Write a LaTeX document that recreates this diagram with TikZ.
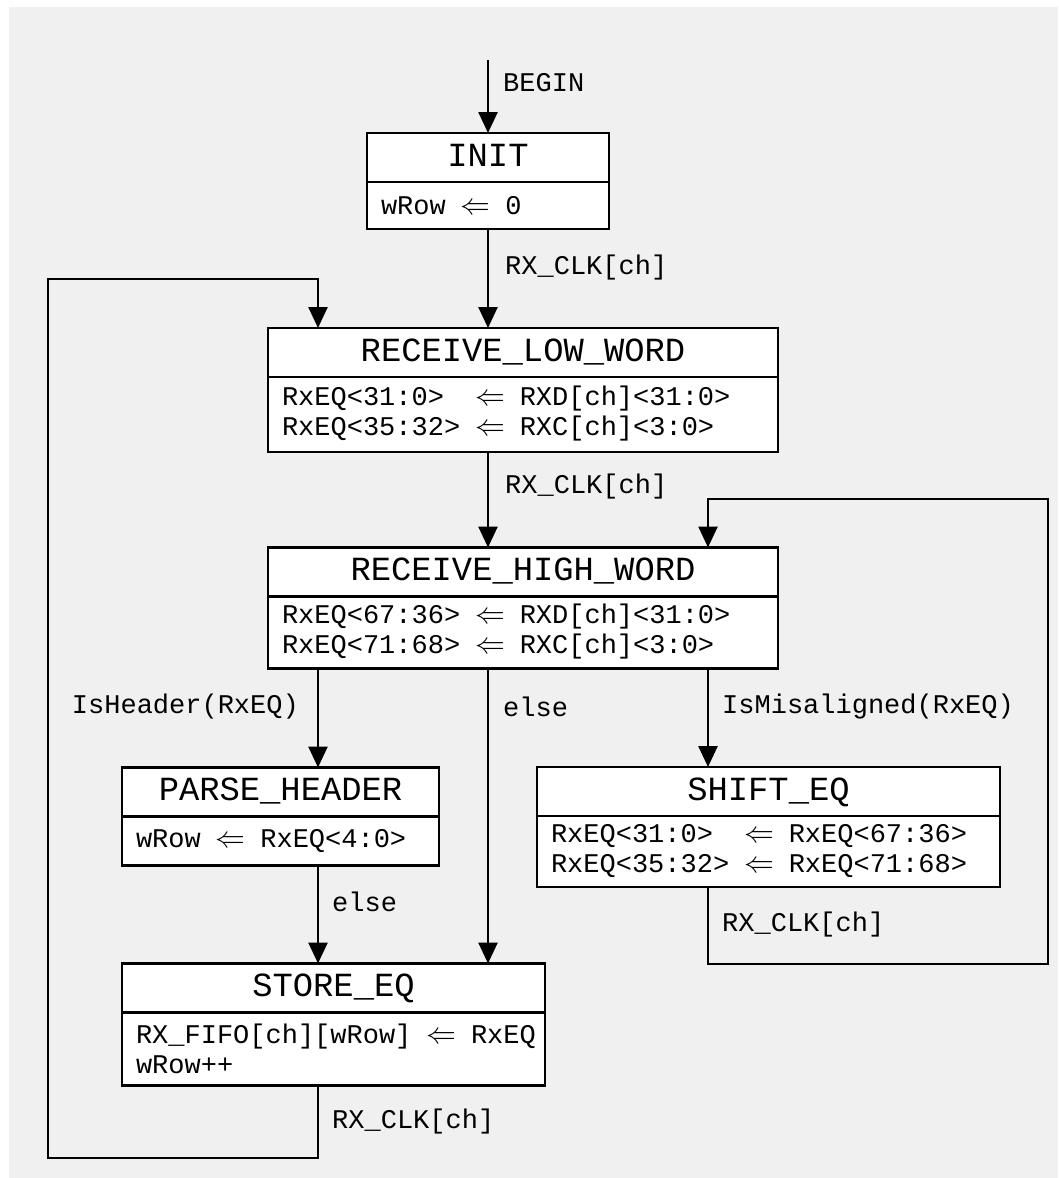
\documentclass[tikz,border=0pt]{standalone}
\usepackage{fontspec}
\setmonofont{Liberation Mono}
\usetikzlibrary{arrows.meta, positioning}
\definecolor{bgcol}{HTML}{F0F0F0}
\newcommand{\titlefont}{\ttfamily\fontsize{33.8}{38}\selectfont}
\newcommand{\bodyfont}{\ttfamily\fontsize{27}{30}\selectfont}
\newcommand{\lar}{\hspace{0.55em}\scalebox{1.2}{$\Leftarrow$}\hspace{0.55em}}

\begin{document}
\begin{tikzpicture}[x=1pt, y=-1pt,
  sttitle/.style={
    draw, fill=white, line width=2.6pt, font=\titlefont, outer sep=0pt,
    minimum height=49pt, inner sep=0pt, text height=24pt, text depth=7pt
  },
  stbody/.style={
    draw, fill=white, line width=2.6pt, font=\bodyfont, align=left,
    outer sep=0pt, inner xsep=14pt, inner ysep=0pt, below=0pt of #1
  },
  conn/.style={-{Triangle[length=21pt, width=19pt]}, line width=2.6pt},
  lbl/.style={font=\bodyfont, anchor=west, inner sep=0pt},
]

% ---------------------------------------------------------------
% page and background
% ---------------------------------------------------------------
\useasboundingbox (0,0) rectangle (1058,1178);
\fill[bgcol] (9,7) rectangle (1058,1178);

% columns used by the vertical connectors
\coordinate (colA) at (318,0);
\coordinate (colC) at (708,0);

% ===== States =====
\node[sttitle, minimum width=242pt] (init) at (488,157.5) {INIT};
\node[stbody=init, minimum width=242pt, text width=214pt, minimum height=47pt]
  (init-b) {wRow\lar 0};

\node[sttitle, minimum width=510pt] (rlw) at (523,352.5) {RECEIVE\_LOW\_WORD};
\node[stbody=rlw, minimum width=510pt, text width=482pt, minimum height=75pt]
  (rlw-b) {\begin{tabular}{@{}l@{\lar}l@{}}
    RxEQ<31:0>  & RXD[ch]<31:0>\\
    RxEQ<35:32> & RXC[ch]<3:0>
  \end{tabular}};

\node[sttitle, minimum width=510pt] (rhw) at (523,572) {RECEIVE\_HIGH\_WORD};
\node[stbody=rhw, minimum width=510pt, text width=482pt, minimum height=72pt]
  (rhw-b) {\begin{tabular}{@{}l@{\lar}l@{}}
    RxEQ<67:36> & RXD[ch]<31:0>\\
    RxEQ<71:68> & RXC[ch]<3:0>
  \end{tabular}};

\node[sttitle, minimum width=317pt] (parse) at (280.5,792) {PARSE\_HEADER};
\node[stbody=parse, minimum width=317pt, text width=289pt, minimum height=49pt]
  (parse-b) {wRow\lar RxEQ<4:0>};

\node[sttitle, minimum width=463pt] (shift) at (768.5,791.5) {SHIFT\_EQ};
\node[stbody=shift, minimum width=463pt, text width=435pt, minimum height=71pt]
  (shift-b) {\begin{tabular}{@{}l@{\lar}l@{}}
    RxEQ<31:0>  & RxEQ<67:36>\\
    RxEQ<35:32> & RxEQ<71:68>
  \end{tabular}};

\node[sttitle, minimum width=423pt] (store) at (333.5,988) {STORE\_EQ};
\node[stbody=store, minimum width=423pt, text width=395pt, minimum height=73pt]
  (store-b) {\mbox{RX\_FIFO[ch][wRow]\lar RxEQ}\\wRow++};

% ===== Transitions =====
\coordinate (begin) at (488,60);
\draw[conn] (begin) -- (init);
\draw[conn] (init-b) -- (init-b |- rlw.north);
\draw[conn] (rlw-b.south -| init) -- (init |- rhw.north);
\draw[conn] (rhw-b.south -| colA) -- (colA |- parse.north);
\draw[conn] (rhw-b.south -| init) -- (init |- store.north);
\draw[conn] (rhw-b.south -| colC) -- (colC |- shift.north);
\draw[conn] (parse-b.south -| colA) -- (colA |- store.north);

% loop back from STORE_EQ to RECEIVE_LOW_WORD
\coordinate (loopL) at (48,1158);
\coordinate (loopLtop) at (48,279);
\draw[conn] (store-b.south -| colA) |- (loopL) -- (loopLtop) -| (colA |- rlw.north);

% loop back from SHIFT_EQ to RECEIVE_HIGH_WORD
\coordinate (loopR) at (1048,964);
\coordinate (loopRtop) at (1048,499);
\draw[conn] (shift-b.south -| colC) |- (loopR) -- (loopRtop) -| (colC |- rhw.north);

% ===== Labels =====
\node[lbl] (l-begin) at (503,83) {BEGIN};
\node[lbl] (l-clk1) at (505,268) {RX\_CLK[ch]};
\node[lbl] (l-clk2) at (505,487) {RX\_CLK[ch]};
\node[lbl, anchor=east] (l-hdr) at (299,707) {IsHeader(RxEQ)};
\node[lbl] (l-else1) at (503,707) {else};
\node[lbl] (l-mis) at (722,707) {IsMisaligned(RxEQ)};
\node[lbl] (l-else2) at (332,902) {else};
\node[lbl] (l-clk3) at (722,925) {RX\_CLK[ch]};
\node[lbl] (l-clk4) at (332,1122) {RX\_CLK[ch]};

\end{tikzpicture}
\end{document}
